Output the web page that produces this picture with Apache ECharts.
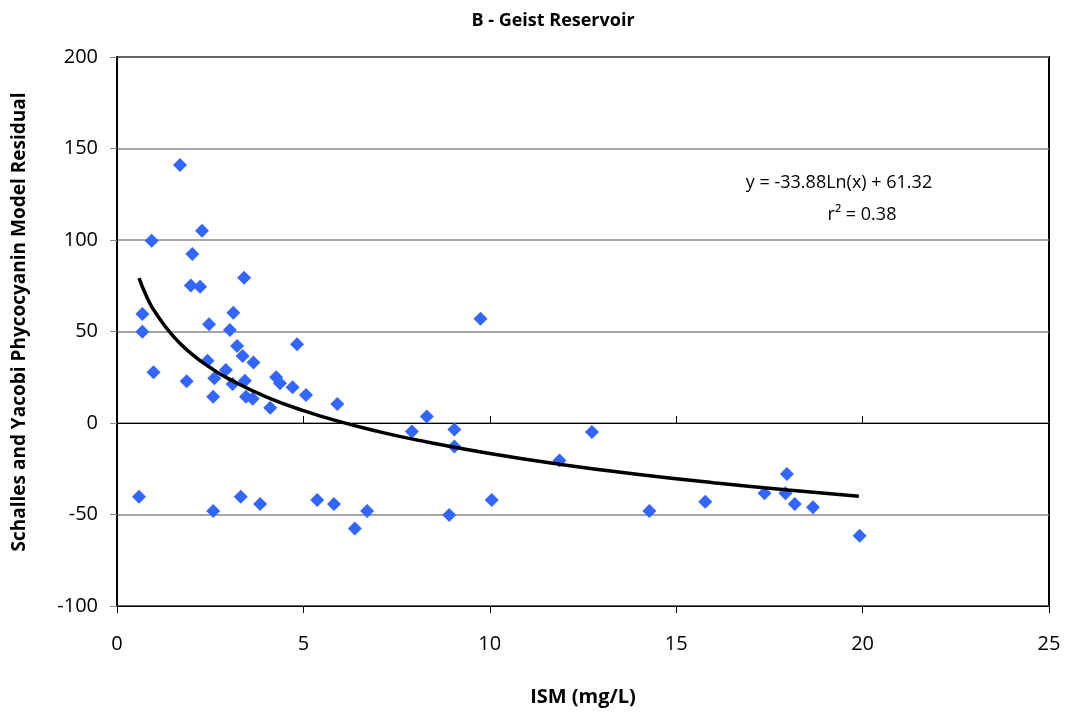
<!DOCTYPE html>
<html>
<head>
<meta charset="utf-8">
<script src="https://cdn.jsdelivr.net/npm/echarts@6/dist/echarts.min.js"></script>
<style>html,body{margin:0;padding:0;background:#fff}#c{width:1070px;height:715px}</style>
</head>
<body>
<div id="c"></div>
<script>
const ismValues = [1.69,0.93,2.28,2.02,3.41,1.98,2.23,3.12,0.68,0.68,2.47,3.03,4.83,3.22,3.37,3.66,2.43,0.98,2.92,1.87,2.61,3.10,3.43,4.27,4.37,4.71,5.07,2.58,3.46,3.64,4.11,0.59,2.58,3.32,3.84,5.37,9.75,5.91,8.31,7.91,9.05,9.05,5.82,6.38,6.71,8.91,10.05,12.74,11.87,14.28,15.78,17.37,17.97,17.93,18.18,18.67,19.92];
const residualValues = [141,99.6,105,92.3,79.4,75.2,74.5,60.3,59.6,49.9,53.9,50.8,43,42.1,36.6,33,34,27.7,29,22.8,24.4,21.3,23.1,25,21.7,19.5,15.3,14.4,14.4,13.3,8.4,-40.3,-48.1,-40.3,-44.3,-42.1,57,10.4,3.5,-4.7,-3.5,-12.9,-44.3,-57.6,-48.1,-50.3,-42.1,-4.9,-20.5,-48.1,-43,-38.4,-27.9,-38.4,-44.3,-46.1,-61.6];
const trendX = [0.59,0.8,1,1.5,2,2.5,3,4,5,6,7,8,10,12,14,16,18,19.9];
const trendY = [79.2,68.9,61.3,47.6,37.8,30.3,24.1,14.3,6.8,0.6,-4.6,-9.1,-16.7,-22.9,-28.1,-32.6,-36.6,-40.0];
const xTicks = [0,5,10,15,20,25];
const yTicks = [-100,-50,0,50,100,150,200];
const titleText = 'B - Geist Reservoir';
const xName = 'ISM (mg/L)';
const yName = 'Schalles and Yacobi Phycocyanin Model Residual';
const eqLine1 = 'y = -33.88Ln(x) + 61.32';
const eqLine2 = 'r² = 0.38';

const FONT = '"Open Sans", "Noto Sans", sans-serif';
const chart = echarts.init(document.getElementById('c'));
const xBase = {type:'value', min:xTicks[0], max:xTicks[xTicks.length-1], interval:5, gridIndex:0, splitLine:{show:false}};
chart.setOption({
  animation:false,
  backgroundColor:'#fff',
  title:{text:titleText, left:548, top:7, textAlign:'center',
    textStyle:{fontFamily:FONT, fontSize:18, fontWeight:'bold', color:'#000'}},
  grid:{left:117, right:21, top:57, bottom:109, show:true, borderColor:'#000', borderWidth:2, backgroundColor:'transparent'},
  xAxis:[
    Object.assign({}, xBase, {position:'bottom', axisLine:{show:false,onZero:false}, axisTick:{show:false},
      axisLabel:{fontFamily:FONT, fontSize:20, color:'#000', margin:28},
      name:xName, nameLocation:'middle', nameGap:81,
      nameTextStyle:{fontFamily:FONT, fontSize:20, fontWeight:'bold', color:'#000'}}),
    Object.assign({}, xBase, {position:'bottom', axisLine:{show:true,onZero:true,lineStyle:{color:'#000',width:1}},
      axisTick:{show:true,inside:true,length:7,lineStyle:{color:'#000'}}, axisLabel:{show:false}}),
    Object.assign({}, xBase, {position:'bottom', axisLine:{show:true,onZero:true,lineStyle:{color:'#000',width:1}},
      axisTick:{show:true,inside:false,length:7,lineStyle:{color:'#000'}}, axisLabel:{show:false}})
  ],
  yAxis:{type:'value', min:yTicks[0], max:yTicks[yTicks.length-1], interval:50,
    axisLine:{show:true, onZero:false, lineStyle:{color:'#000', width:2}},
    axisTick:{show:true, length:7, lineStyle:{color:'#888'}},
    axisLabel:{fontFamily:FONT, fontSize:20, color:'#000', margin:19},
    splitLine:{show:true, lineStyle:{color:'#888', width:1.5}}},
  series:[
    {type:'scatter', xAxisIndex:0, data:ismValues.map((x,i)=>[x,residualValues[i]]),
      symbol:'diamond', symbolSize:14, itemStyle:{color:'#3366ff', opacity:1}, z:3},
    {type:'line', xAxisIndex:0, data:trendX.map((x,i)=>[x,trendY[i]]), smooth:true, showSymbol:false,
      lineStyle:{color:'#000', width:3.5}, z:4}
  ],
  graphic:[
    {type:'text', x:20, y:322, rotation:Math.PI/2, style:{text:yName, align:'center', verticalAlign:'middle',
      font:'bold 19px "Open Sans", "Noto Sans", sans-serif', fill:'#000'}},
    {type:'text', x:839, y:183, style:{text:eqLine1, align:'center', verticalAlign:'middle',
      font:'18px "Open Sans", "Noto Sans", sans-serif', fill:'#000'}},
    {type:'text', x:862, y:215, style:{text:eqLine2, align:'center', verticalAlign:'middle',
      font:'18px "Open Sans", "Noto Sans", sans-serif', fill:'#000'}}
  ]
});
</script>
</body>
</html>
